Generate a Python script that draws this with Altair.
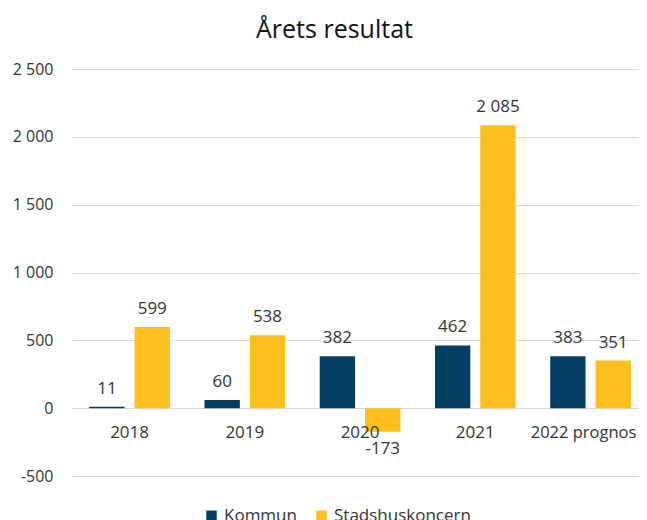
import altair as alt
import pandas as pd

years = ["2018", "2019", "2020", "2021", "2022 prognos"]
kommun = [11, 60, 382, 462, 383]
stadshus = [599, 538, -173, 2085, 351]
series = ["Kommun", "Stadshuskoncern"]
colors = ["#033F63", "#FDBF1D"]
y_ticks = [-500, 0, 500, 1000, 1500, 2000, 2500]

rows = []
for i, yr in enumerate(years):
    rows.append({"year": yr, "serie": series[0], "value": kommun[i]})
    rows.append({"year": yr, "serie": series[1], "value": stadshus[i]})
df = pd.DataFrame(rows)
cat_df = pd.DataFrame({"year": years})

FONT = "Open Sans"
TXT = "#333333"
fmt = ("abs(datum.value) >= 1000 ? (datum.value < 0 ? '-' : '') + floor(abs(datum.value)/1000)"
       " + ' ' + format(abs(datum.value) % 1000, '03d') : '' + datum.value")

x_scale = alt.Scale(domain=years, paddingInner=0.3, paddingOuter=0.11, align=0.68)
off_scale = alt.Scale(domain=series, paddingInner=0.22)
y_scale = alt.Scale(domain=[-500, 2500], nice=False, zero=False)

base = alt.Chart(df)

bars = base.mark_bar().encode(
    x=alt.X("year:N", scale=x_scale, axis=None, sort=years),
    xOffset=alt.XOffset("serie:N", scale=off_scale),
    y=alt.Y("value:Q", scale=y_scale,
            axis=alt.Axis(values=y_ticks, title=None, domain=False, ticks=False,
                          labelExpr=fmt, labelFont=FONT, labelFontSize=16,
                          labelColor=TXT, labelPadding=19,
                          gridColor="#D9D9D9", gridWidth=1)),
    color=alt.Color("serie:N", scale=alt.Scale(domain=series, range=colors),
                    legend=alt.Legend(title=None, orient="none", direction="horizontal",
                                      legendX=131, legendY=438, symbolType="square",
                                      symbolSize=110, symbolStrokeWidth=0, padding=0,
                                      labelFont=FONT, labelFontSize=17, labelOffset=4,
                                      labelColor=TXT, columnPadding=16,
                                      symbolOffset=0)),
)

label_calc = {"label": fmt}

pos_text = base.transform_filter("datum.value >= 0").transform_calculate(
    **label_calc
).mark_text(baseline="bottom", dy=-9, font=FONT, fontSize=17, color=TXT).encode(
    x=alt.X("year:N", scale=x_scale, sort=years),
    xOffset=alt.XOffset("serie:N", scale=off_scale),
    y=alt.Y("value:Q", scale=y_scale),
    text="label:N",
)

neg_text = base.transform_filter("datum.value < 0").transform_calculate(
    **label_calc
).mark_text(baseline="top", dy=9, font=FONT, fontSize=17, color=TXT).encode(
    x=alt.X("year:N", scale=x_scale, sort=years),
    xOffset=alt.XOffset("serie:N", scale=off_scale),
    y=alt.Y("value:Q", scale=y_scale),
    text="label:N",
)

cat_base = alt.Chart(cat_df)
cat_text = cat_base.transform_filter(
    alt.FieldOneOfPredicate(field="year", oneOf=years[:-1])
).mark_text(baseline="middle", dy=25, font=FONT, fontSize=17, color=TXT).encode(
    x=alt.X("year:N", scale=x_scale, sort=years),
    y=alt.YDatum(0),
    text="year:N",
)
cat_last = cat_base.transform_filter(
    alt.FieldEqualPredicate(field="year", equal=years[-1])
).mark_text(baseline="middle", dy=25, dx=-7, font=FONT, fontSize=16.5, color=TXT).encode(
    x=alt.X("year:N", scale=x_scale, sort=years),
    y=alt.YDatum(0),
    text="year:N",
)

chart = alt.layer(bars, pos_text, neg_text, cat_text, cat_last).properties(
    width=567,
    height=407,
    autosize=alt.AutoSizeParams(type="none"),
    padding={"left": 64, "top": 61, "right": 0, "bottom": 50},
    title=alt.TitleParams("Årets resultat", font=FONT, fontSize=25, fontWeight="normal",
                          color="#111111", anchor="middle", dx=-21, offset=18),
).configure_view(stroke=None)

chart.save("out.html", embed_options={"renderer": "svg", "actions": False})
